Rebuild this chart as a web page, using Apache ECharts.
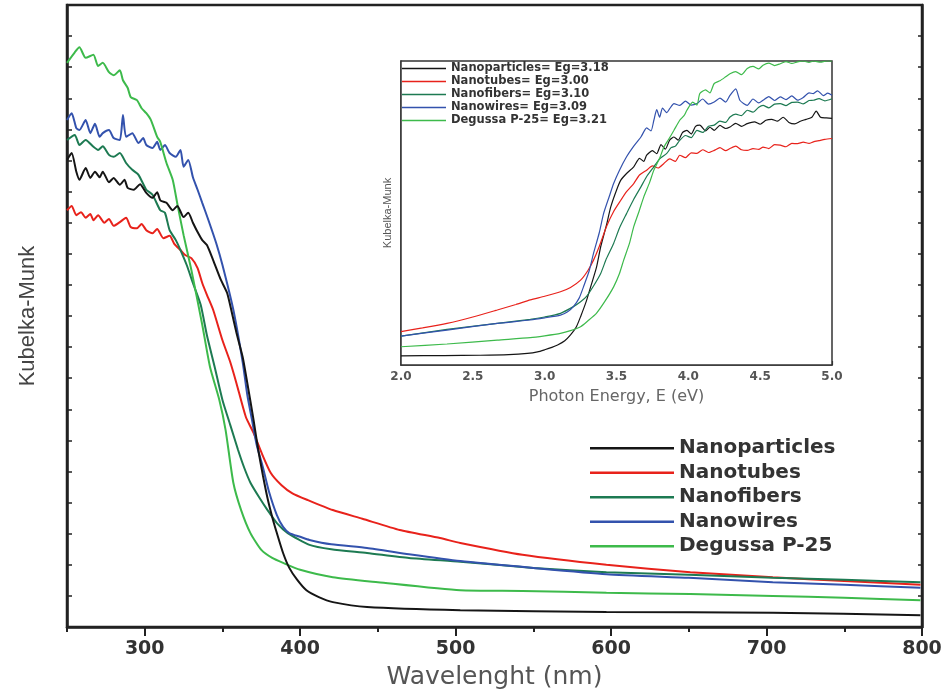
<!DOCTYPE html>
<html>
<head>
<meta charset="utf-8">
<script src="https://cdn.jsdelivr.net/npm/echarts@6/dist/echarts.min.js"></script>
<style>html,body{margin:0;padding:0;background:#fff}#c{width:950px;height:690px}</style>
</head>
<body>
<div id="c"></div>
<script>
// ---------- DATA ----------
const mainNames = ['Nanoparticles', 'Nanotubes', 'Nanofibers', 'Nanowires', 'Degussa P-25'];
const insetNames = ['Nanoparticles= Eg=3.18', 'Nanotubes= Eg=3.00', 'Nanofibers= Eg=3.10', 'Nanowires= Eg=3.09', 'Degussa P-25= Eg=3.21'];
const colors = ['#151515', '#e8221b', '#1d7a52', '#3352ad', '#3dba4b'];

const mainTickLabels = [300, 400, 500, 600, 700, 800];
const mainMajorTicks = [300, 400, 500, 600, 700, 800];
const mainMinorTicks = [250, 350, 450, 550, 650, 750];
const mainTopTicks = [300, 350, 400, 450, 500, 550, 600, 650, 700, 750];
const insetTickLabels = [2.0, 2.5, 3.0, 3.5, 4.0, 4.5, 5.0];
const insetMinorTicks = [2.25, 2.75, 3.25, 3.75, 4.25, 4.75];

// Main plot: wavelength (nm) vs Kubelka-Munk (a.u.)
const mainNanoparticles = [[250,75.1],[253,76.2],[256,73.2],[258,71.9],[262,73.8],[265,72.2],[268,73.2],[271,72.3],[273,73.2],[277,71.5],[280,72.2],[284,71.1],[287,71.9],[289,70.6],[293,70.3],[297,71.2],[301,69.8],[305,69.0],[308,69.9],[310,68.6],[314,68.2],[318,67.0],[321,67.7],[325,65.9],[328,66.6],[331,65.0],[334,63.5],[337,62.2],[340,61.4],[344,59.0],[349,55.8],[353,53.7],[356,50.6],[359,47.3],[363,43.4],[366,39.2],[370,33.3],[373,28.5],[376,24.4],[379,20.7],[382,17.7],[385,15.1],[389,11.9],[393,9.5],[398,7.6],[404,5.9],[412,4.8],[421,4.0],[443,3.2],[503,2.7],[597,2.4],[704,2.3],[799,1.9]];
const mainNanotubes = [[250,67.0],[253,67.7],[256,66.2],[259,66.7],[262,65.8],[265,66.4],[267,65.4],[270,66.2],[274,65.0],[277,65.6],[280,64.5],[284,65.1],[288,65.8],[291,64.3],[295,64.1],[298,64.8],[301,63.8],[305,63.3],[308,64.0],[312,62.5],[316,62.9],[319,61.6],[323,60.6],[326,59.8],[330,59.3],[334,57.7],[337,55.3],[340,53.4],[344,51.0],[350,46.1],[355,42.6],[359,39.2],[365,33.8],[370,31.2],[375,28.1],[381,24.8],[388,22.8],[395,21.5],[405,20.4],[421,18.8],[440,17.4],[464,15.6],[490,14.3],[503,13.5],[543,11.6],[597,10.0],[651,8.8],[704,8.0],[750,7.4],[799,6.8]];
const mainNanofibers = [[250,78.3],[255,79.1],[258,77.5],[262,78.3],[267,77.2],[270,76.7],[273,77.3],[277,75.9],[280,75.6],[284,76.2],[288,74.6],[292,73.5],[296,72.7],[301,70.3],[305,69.5],[310,67.0],[313,66.6],[316,63.8],[320,62.2],[323,60.6],[327,58.2],[331,55.3],[336,51.8],[340,46.9],[345,41.8],[350,36.5],[355,32.5],[360,28.5],[364,25.6],[368,23.2],[374,20.7],[379,18.8],[385,16.7],[392,15.1],[406,13.2],[420,12.5],[443,11.9],[470,11.1],[503,10.5],[550,9.5],[597,8.8],[650,8.4],[704,7.9],[750,7.6],[799,7.2]];
const mainNanowires = [[250,81.5],[253,82.6],[256,80.2],[258,79.9],[262,81.5],[265,79.4],[268,80.9],[271,78.8],[273,79.4],[277,79.9],[280,78.6],[284,78.3],[286,82.3],[288,78.8],[292,79.4],[296,77.8],[299,78.6],[301,77.5],[305,77.0],[308,78.0],[310,76.7],[313,77.5],[316,76.2],[320,75.6],[323,76.7],[325,74.0],[328,75.1],[331,72.3],[334,70.3],[337,68.2],[341,65.4],[346,61.7],[350,58.2],[357,51.0],[363,42.6],[366,37.3],[369,33.3],[372,29.3],[376,25.7],[380,21.7],[385,18.0],[389,16.1],[393,15.1],[400,14.5],[406,14.0],[420,13.3],[443,12.7],[470,11.7],[503,10.6],[550,9.5],[597,8.5],[650,7.9],[704,7.2],[750,6.8],[799,6.3]];
const mainDegussa = [[250,90.7],[255,92.4],[258,93.2],[262,91.5],[267,92.0],[270,90.2],[273,90.7],[277,89.2],[280,88.7],[284,89.5],[286,87.9],[289,86.7],[291,85.2],[295,84.7],[298,83.4],[301,82.6],[304,81.5],[308,78.8],[310,78.0],[314,74.6],[318,71.9],[321,68.0],[325,63.0],[330,57.4],[337,48.6],[342,41.8],[348,36.5],[352,31.7],[357,23.2],[362,18.8],[368,15.1],[375,12.4],[382,11.1],[389,10.3],[400,9.2],[421,8.0],[450,7.2],[503,5.9],[543,5.8],[597,5.5],[651,5.3],[704,5.0],[750,4.7],[799,4.3]];

// Inset: photon energy (eV) vs Kubelka-Munk (a.u.)
const insetNanoparticles = [[2.0,3.0],[2.3,3.1],[2.55,3.2],[2.75,3.4],[2.88,3.8],[2.95,4.3],[3.0,5.0],[3.05,5.8],[3.09,6.6],[3.14,8.0],[3.18,9.9],[3.22,12.5],[3.25,15.9],[3.29,21],[3.32,25.7],[3.36,32],[3.39,38.9],[3.43,46],[3.46,52.0],[3.5,57.5],[3.53,60.8],[3.57,63],[3.62,65.2],[3.66,68],[3.69,67],[3.71,69.0],[3.75,70.5],[3.78,69.5],[3.81,72.5],[3.84,71],[3.87,74],[3.9,75.0],[3.93,74],[3.96,76.5],[3.99,77.2],[4.02,76],[4.05,78.5],[4.08,78.9],[4.12,77],[4.15,78.2],[4.18,77.2],[4.22,78.8],[4.26,77.8],[4.29,78.3],[4.33,79.5],[4.37,78.5],[4.41,79.4],[4.46,80],[4.5,79.2],[4.54,80.5],[4.58,80.8],[4.62,80.2],[4.66,81.5],[4.7,79.8],[4.74,79.3],[4.78,80.2],[4.82,80.8],[4.86,81.5],[4.89,83.5],[4.92,81.5],[4.96,81.3],[5.0,81.1]];
const insetNanotubes = [[2.0,11.0],[2.15,12.2],[2.32,13.7],[2.5,15.8],[2.67,18.1],[2.8,19.9],[2.9,21.4],[3.0,22.6],[3.11,24.1],[3.18,25.5],[3.25,27.9],[3.3,31],[3.34,34.5],[3.38,39],[3.43,45.5],[3.48,50.5],[3.53,54.2],[3.57,57],[3.62,59.7],[3.66,62.5],[3.71,64.1],[3.75,65.5],[3.79,64.8],[3.83,66.3],[3.87,67.8],[3.91,67],[3.94,69.0],[3.98,68.2],[4.02,69.8],[4.06,69.6],[4.1,70.8],[4.14,69.9],[4.18,70.6],[4.22,71.5],[4.26,70.5],[4.29,71.2],[4.33,72],[4.37,70.8],[4.41,70.6],[4.45,71.2],[4.49,70.9],[4.52,71.7],[4.56,71.2],[4.6,72.5],[4.64,72.3],[4.68,71.8],[4.72,72.9],[4.76,72.8],[4.8,73.3],[4.84,72.9],[4.87,73.4],[4.91,73.8],[4.95,74.2],[5.0,74.5]];
const insetNanofibers = [[2.0,9.5],[2.32,11.7],[2.67,13.7],[2.9,15.0],[3.0,15.8],[3.11,17.0],[3.2,19.2],[3.25,20.8],[3.29,22.5],[3.34,26],[3.39,30.1],[3.43,35],[3.48,40.0],[3.52,45],[3.57,49.8],[3.62,54.5],[3.67,58.6],[3.71,62],[3.76,65.2],[3.8,67.8],[3.85,69.6],[3.88,71.5],[3.91,72],[3.94,73.9],[3.98,75.5],[4.02,74.8],[4.06,77.2],[4.1,76.5],[4.14,78.5],[4.18,78.9],[4.22,80.2],[4.26,79.8],[4.29,81.6],[4.33,82.5],[4.37,82],[4.41,83.8],[4.45,83.2],[4.49,84.8],[4.52,85.4],[4.56,84.6],[4.6,85.8],[4.64,86.0],[4.68,85.3],[4.72,86.4],[4.76,86.5],[4.8,85.9],[4.84,87],[4.87,87.1],[4.91,87.6],[4.95,86.9],[5.0,87.6]];
const insetNanowires = [[2.0,9.5],[2.32,11.5],[2.67,13.7],[2.9,14.8],[3.0,15.5],[3.11,16.4],[3.16,17.5],[3.2,19.2],[3.24,22],[3.27,25.7],[3.31,31],[3.34,36.7],[3.38,43.5],[3.41,49.8],[3.45,55.5],[3.48,59.7],[3.52,64],[3.57,68.5],[3.62,72],[3.67,75.0],[3.71,78],[3.74,77],[3.76,80.5],[3.78,84],[3.8,81.5],[3.82,84.5],[3.85,83],[3.87,84.3],[3.9,86],[3.94,85.4],[3.98,86.8],[4.02,85.5],[4.06,86.0],[4.1,87.5],[4.14,85.8],[4.18,86.5],[4.22,87.8],[4.26,86.5],[4.29,88.7],[4.33,90.8],[4.36,87],[4.41,85.4],[4.45,87.5],[4.49,86.2],[4.52,87.1],[4.56,88.3],[4.6,87],[4.64,88.2],[4.68,87.3],[4.72,88.5],[4.76,87.1],[4.8,88],[4.84,89.5],[4.87,89.3],[4.9,90.2],[4.94,88.6],[4.97,89.4],[5.0,88.7]];
const insetDegussa = [[2.0,6.0],[2.32,6.9],[2.67,8.2],[2.9,9.0],[3.0,9.6],[3.11,10.4],[3.18,11.3],[3.25,12.6],[3.3,14.5],[3.36,17.0],[3.42,21],[3.48,25.7],[3.52,30],[3.55,34.5],[3.59,40],[3.62,45.5],[3.66,51],[3.69,55.3],[3.73,60],[3.76,64.1],[3.8,68],[3.83,71.7],[3.86,74],[3.9,77.2],[3.94,80.5],[3.97,82],[3.99,83.8],[4.03,86.5],[4.06,85.5],[4.08,89.3],[4.12,90.5],[4.15,89.5],[4.18,92.6],[4.22,93.5],[4.26,94.8],[4.29,95.8],[4.33,96.5],[4.37,95.5],[4.41,97.5],[4.45,98.2],[4.49,97.4],[4.52,98.6],[4.56,99.3],[4.6,98.5],[4.64,99.1],[4.68,99.8],[4.72,99.2],[4.76,99.7],[4.8,100],[4.84,99.5],[4.87,100],[4.92,99.6],[4.96,100],[5.0,100]];

const mainData = [mainNanoparticles, mainNanotubes, mainNanofibers, mainNanowires, mainDegussa];
const insetData = [insetNanoparticles, insetNanotubes, insetNanofibers, insetNanowires, insetDegussa];

// ---------- CHART ----------
const chart = echarts.init(document.getElementById('c'), null, {renderer: 'canvas'});
const FONT = 'DejaVu Sans';
const ink = '#222';

const series = [];
mainData.forEach((d, i) => series.push({
  name: mainNames[i], type: 'line', xAxisIndex: 0, yAxisIndex: 0, data: d,
  symbol: 'none', smooth: 0.2, z: 3 + (i === 0 ? 1 : 0),
  lineStyle: {color: colors[i], width: 2}, itemStyle: {color: colors[i]}
}));
insetData.forEach((d, i) => series.push({
  name: insetNames[i], type: 'line', xAxisIndex: 3, yAxisIndex: 2, data: d,
  symbol: 'none', smooth: 0.2, z: 5,
  lineStyle: {color: colors[i], width: 1.2}, itemStyle: {color: colors[i]}
}));

const option = {
  animation: false,
  backgroundColor: '#fff',
  grid: [
    {left: 67, top: 5, width: 855, height: 622, containLabel: false, outerBoundsMode: 'none',
     show: true, borderColor: ink, borderWidth: 2.5, backgroundColor: 'transparent'},
    {left: 401, top: 61, width: 431, height: 304, containLabel: false, outerBoundsMode: 'none',
     show: true, borderColor: '#333', borderWidth: 1.5, backgroundColor: '#fff', z: 4}
  ],
  legend: [
    {data: mainNames, orient: 'vertical', left: 585, top: 431, icon: 'rect', itemWidth: 84, itemHeight: 2.5, itemGap: 0,
     textStyle: {fontFamily: FONT, fontWeight: 'bold', fontSize: 20, color: '#333', lineHeight: 24.5}},
    {data: insetNames, orient: 'vertical', left: 402, top: 62, icon: 'rect', itemWidth: 44, itemHeight: 1.5, itemGap: 0, padding: 0, z: 6,
     textStyle: {fontFamily: FONT, fontWeight: 'bold', fontSize: 11.5, color: '#333', lineHeight: 13}}
  ],
  xAxis: [
    {gridIndex: 0, type: 'value', min: 250, max: 800, position: 'bottom',
     name: 'Wavelenght (nm)', nameLocation: 'middle', nameGap: 38,
     nameTextStyle: {fontFamily: FONT, fontSize: 25, color: '#555'},
     axisLine: {show: true, onZero: false, lineStyle: {color: ink, width: 2.5}},
     axisTick: {show: true, inside: false, length: 9, lineStyle: {color: ink, width: 2}, customValues: mainMajorTicks},
     axisLabel: {show: true, customValues: mainTickLabels, margin: 13, fontFamily: FONT, fontWeight: 'bold', fontSize: 19, color: '#333'},
     splitLine: {show: false}},
    {gridIndex: 0, type: 'value', min: 250, max: 800, position: 'bottom',
     axisLine: {show: false}, axisLabel: {show: false}, splitLine: {show: false},
     axisTick: {show: true, inside: false, length: 5, lineStyle: {color: ink, width: 2}, customValues: mainMinorTicks}},
    {gridIndex: 0, type: 'value', min: 250, max: 800, position: 'top',
     axisLine: {show: false}, axisLabel: {show: false}, splitLine: {show: false},
     axisTick: {show: true, inside: true, length: 4, lineStyle: {color: ink, width: 1.5}, customValues: mainTopTicks}},
    {gridIndex: 1, type: 'value', min: 2, max: 5, position: 'bottom',
     name: 'Photon Energy, E (eV)', nameLocation: 'middle', nameGap: 24,
     nameTextStyle: {fontFamily: FONT, fontSize: 16, color: '#666'},
     axisLine: {show: true, onZero: false, lineStyle: {color: '#333', width: 1.5}},
     axisTick: {show: true, inside: true, length: 4, lineStyle: {color: '#333', width: 1.2}, customValues: insetTickLabels},
     axisLabel: {show: true, customValues: insetTickLabels, margin: 6, fontFamily: FONT, fontWeight: 'bold', fontSize: 12, color: '#555',
                 formatter: v => Number(v).toFixed(1)},
     splitLine: {show: false}},
    {gridIndex: 1, type: 'value', min: 2, max: 5, position: 'bottom',
     axisLine: {show: false}, axisLabel: {show: false}, splitLine: {show: false},
     axisTick: {show: true, inside: true, length: 3, lineStyle: {color: '#333', width: 1.2}, customValues: insetMinorTicks}}
  ],
  yAxis: [
    {gridIndex: 0, type: 'value', min: 0, max: 100, interval: 5, position: 'left',
     name: 'Kubelka-Munk', nameLocation: 'middle', nameGap: 28,
     nameTextStyle: {fontFamily: 'Liberation Sans', fontSize: 22, color: '#444'},
     axisLine: {show: true, lineStyle: {color: ink, width: 2.5}},
     axisTick: {show: true, inside: true, length: 5, lineStyle: {color: ink, width: 1.5}},
     axisLabel: {show: false}, splitLine: {show: false}},
    {gridIndex: 0, type: 'value', min: 0, max: 100, interval: 5, position: 'right',
     axisLine: {show: true, lineStyle: {color: ink, width: 2.5}},
     axisTick: {show: true, inside: true, length: 4, lineStyle: {color: ink, width: 1.5}},
     axisLabel: {show: false}, splitLine: {show: false}},
    {gridIndex: 1, type: 'value', min: 0, max: 100, position: 'left',
     name: 'Kubelka-Munk', nameLocation: 'middle', nameGap: 8,
     nameTextStyle: {fontFamily: 'Liberation Sans', fontSize: 11, color: '#555'},
     axisLine: {show: true, lineStyle: {color: '#333', width: 1.5}},
     axisTick: {show: false}, axisLabel: {show: false}, splitLine: {show: false}}
  ],
  series: series
};
chart.setOption(option);
</script>
</body>
</html>
